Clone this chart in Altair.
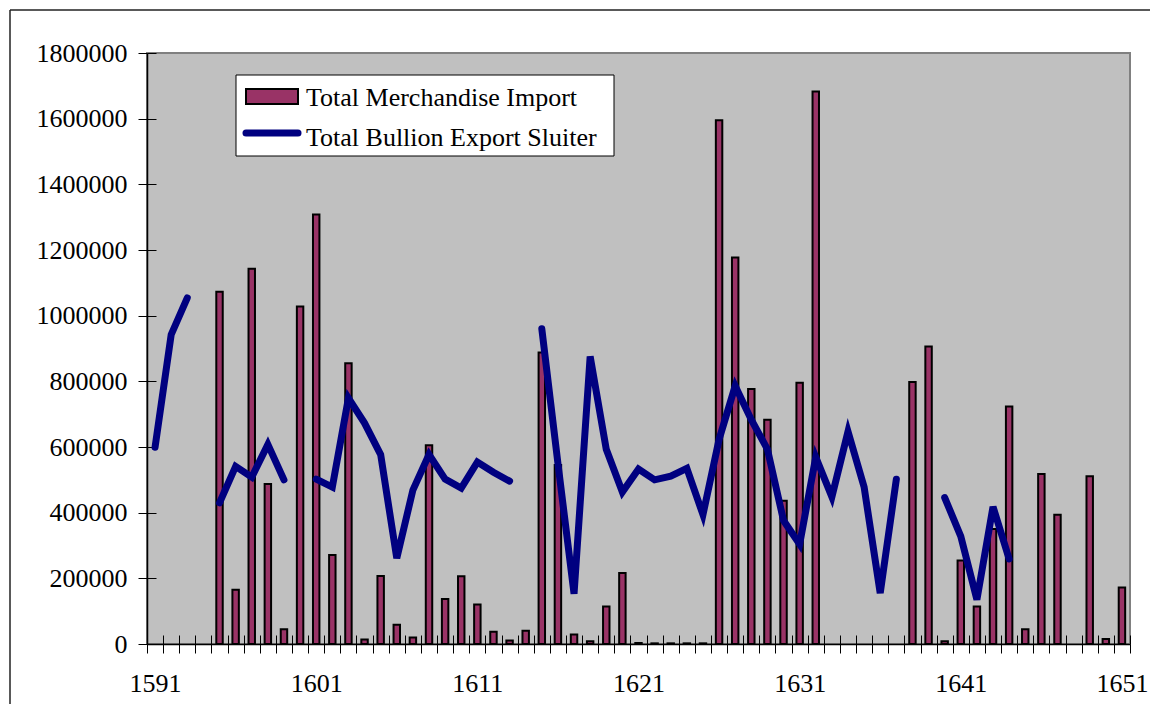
import altair as alt
import pandas as pd

years = list(range(1591, 1652))

merchandise_import = [
    None, None, None, None, 1073000, 165000, 1143000, 487000, 45000, 1028000,   # 1591-1600
    1308000, 271000, 855000, 14000, 207000, 59000, 20000, 605000, 137000, 206000,  # 1601-1610
    120000, 37000, 11000, 40000, 888000, 545000, 29000, 8000, 114000, 216000,      # 1611-1620
    3000, 2000, 2000, 2000, 2000, 1595000, 1177000, 777000, 683000, 436000,        # 1621-1630
    796000, 1683000, None, None, None, None, None, 798000, 906000, 8000,           # 1631-1640
    254000, 114000, 350000, 723000, 45000, 518000, 394000, None, 511000, 15000,    # 1641-1650
    172000,                                                                        # 1651
]

bullion_export = [
    599000, 942000, 1054000, None, 430000, 541000, 508000, 608000, 500000, None,   # 1591-1600
    502000, 478000, 749000, 673000, 577000, 261000, 469000, 577000, 502000, 475000,  # 1601-1610
    554000, 523000, 496000, None, 960000, 550000, 153000, 876000, 593000, 463000,  # 1611-1620
    533000, 500000, 511000, 535000, 394000, 623000, 786000, 683000, 593000, 376000,  # 1621-1630
    304000, 569000, 448000, 647000, 478000, 155000, 502000, None, None, 446000,    # 1631-1640
    328000, 135000, 418000, 259000, None, None, None, None, None, None,            # 1641-1650
    None,                                                                          # 1651
]

series_names = ["Total Merchandise Import", "Total Bullion Export Sluiter"]
y_ticks = [0, 200000, 400000, 600000, 800000, 1000000, 1200000, 1400000, 1600000, 1800000]

FONT = "Liberation Serif"
FS = 26
BAR_COLOR = "#993366"
LINE_COLOR = "#000080"

# tables
bars_df = pd.DataFrame({"year": years, "value": merchandise_import}).dropna()
seg, segs = 0, []
for v in bullion_export:
    if v is None:
        seg += 1
    segs.append(seg)
line_df = pd.DataFrame({"year": years, "value": bullion_export, "seg": segs}).dropna()
one = pd.DataFrame({"a": [0]})

x_scale = alt.Scale(type="band", domain=years, paddingInner=0, paddingOuter=0)
y_scale = alt.Scale(domain=[0, 1800000], nice=False)

label_expr = "(datum.value - 1591) % 10 === 0 ? datum.label : ''"

x_axis_main = alt.Axis(
    title=None, tickBand="extent", labelExpr=label_expr, labelOverlap=False,
    labelFont=FONT, labelFontSize=FS, labelColor="black", labelAngle=0,
    labelPadding=17, tickSize=9, tickColor="black", tickWidth=1,
    domainColor="black", domainWidth=1.5, grid=False, orient="bottom",
)
x_axis_inner = alt.Axis(
    title=None, tickBand="extent", labels=False, domain=False, grid=False,
    tickSize=9, tickColor="black", tickWidth=1, offset=-9, orient="bottom",
)
y_axis_main = alt.Axis(
    title=None, values=y_ticks, format="d", labelFont=FONT, labelFontSize=FS,
    labelColor="black", labelPadding=11, tickSize=9, tickColor="black", tickWidth=1,
    domainColor="black", domainWidth=1.5, grid=False, orient="left",
)
y_axis_inner = alt.Axis(
    title=None, values=y_ticks, labels=False, domain=False, grid=False,
    tickSize=9, tickColor="black", tickWidth=1, offset=-9, orient="left",
)

bars = alt.Chart(bars_df).mark_bar(
    fill=BAR_COLOR, stroke="black", strokeWidth=2, width=alt.RelativeBandSize(0.40)
).encode(
    x=alt.X("year:O", scale=x_scale, axis=x_axis_main),
    y=alt.Y("value:Q", scale=y_scale, axis=y_axis_main),
)

line = alt.Chart(line_df).mark_line(
    color=LINE_COLOR, strokeWidth=7, strokeCap="round", strokeJoin="miter"
).encode(
    x=alt.X("year:O", scale=x_scale, axis=x_axis_inner),
    y=alt.Y("value:Q", scale=y_scale, axis=y_axis_inner),
    detail="seg:N",
)

# legend (decoration)
leg_box = alt.Chart(one).mark_rect(fill="white", stroke="black", strokeWidth=1).encode(
    x=alt.value(89), x2=alt.value(467), y=alt.value(22), y2=alt.value(103)
)
leg_bar = alt.Chart(one).mark_rect(fill=BAR_COLOR, stroke="black", strokeWidth=2).encode(
    x=alt.value(99), x2=alt.value(151), y=alt.value(36), y2=alt.value(51)
)
leg_line = alt.Chart(one).mark_rule(color=LINE_COLOR, strokeWidth=7, strokeCap="round").encode(
    x=alt.value(99), x2=alt.value(151), y=alt.value(80)
)
leg_t1 = alt.Chart(one).mark_text(
    align="left", baseline="alphabetic", font=FONT, fontSize=FS, color="black"
).encode(x=alt.value(159), y=alt.value(53), text=alt.value(series_names[0]))
leg_t2 = alt.Chart(one).mark_text(
    align="left", baseline="alphabetic", font=FONT, fontSize=FS, color="black"
).encode(x=alt.value(159), y=alt.value(93), text=alt.value(series_names[1]))

# outer chart frame (decoration)
frame_top = alt.Chart(one).mark_rule(color="#222222", strokeWidth=1.5).encode(
    x=alt.value(-137), x2=alt.value(1100), y=alt.value(-43)
)
frame_left = alt.Chart(one).mark_rule(color="#222222", strokeWidth=1.5).encode(
    x=alt.value(-137), y=alt.value(-43), y2=alt.value(800)
)

chart = alt.layer(
    bars, line, leg_box, leg_bar, leg_line, leg_t1, leg_t2, frame_top, frame_left
).resolve_axis(
    x="independent", y="independent"
).properties(
    width=983, height=591,
    autosize=alt.AutoSizeParams(type="none"),
    padding={"left": 139, "top": 45, "right": 20, "bottom": 60},
    background="white",
).configure_view(
    fill="#C0C0C0", stroke="#808080", strokeWidth=2
)

chart.save("out.html", embed_options={"renderer": "svg", "actions": False})
